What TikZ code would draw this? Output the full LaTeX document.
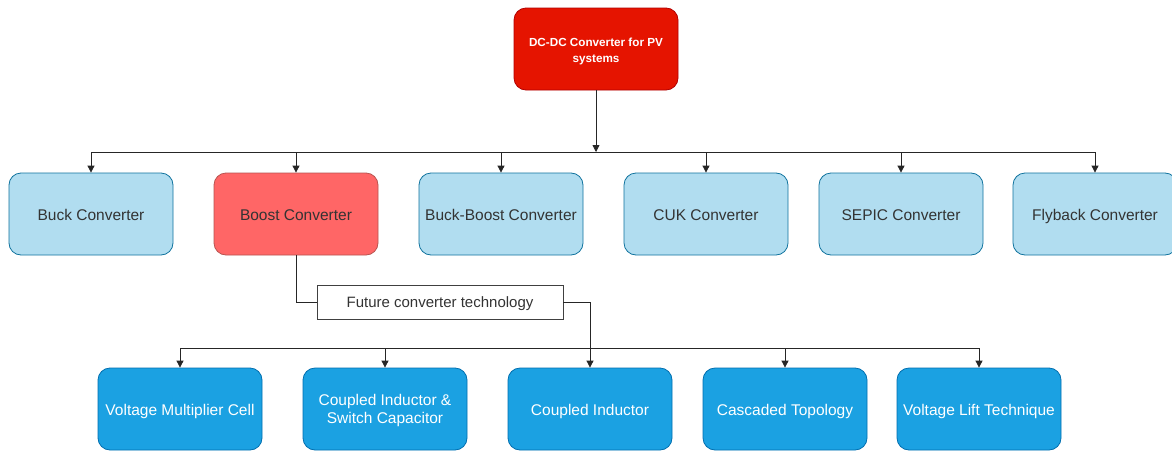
\documentclass[tikz,border=0pt]{standalone}
\usepackage{fontspec}
\setmainfont{Liberation Sans}
\usetikzlibrary{arrows.meta}
\definecolor{topfill}{HTML}{E51400}
\definecolor{topline}{HTML}{B20000}
\definecolor{lbfill}{HTML}{B1DDF0}
\definecolor{lbline}{HTML}{10739E}
\definecolor{rdfill}{HTML}{FF6666}
\definecolor{rdline}{HTML}{B85450}
\definecolor{bbfill}{HTML}{1BA1E2}
\definecolor{bbline}{HTML}{006EAF}
\definecolor{txt}{HTML}{333333}
\newcommand{\twolines}[2]{\raisebox{-2pt}[\height][\depth]{\begin{tabular}{@{}c@{}}#1\\#2\end{tabular}}}
\begin{document}
\begin{tikzpicture}[x=1pt,y=-1pt,
  box/.style={rounded corners=12pt,minimum width=164pt,minimum height=82pt,inner sep=2pt,align=center,line width=0.8pt,font=\fontsize{15.5}{18.5}\selectfont,text height=13pt,text depth=0pt},
  lightbox/.style={box,fill=lbfill,draw=lbline,text=txt},
  boostbox/.style={box,fill=rdfill,draw=rdline,text=txt},
  bluebox/.style={box,fill=bbfill,draw=bbline,text=white},
  twoline/.style={text height=,text depth=},
  topbox/.style={box,twoline,fill=topfill,draw=topline,text=white,font=\bfseries\fontsize{11.7}{16}\selectfont},
  labelbox/.style={draw=black!75,fill=white,minimum width=246pt,minimum height=34pt,inner sep=0pt,text=txt,font=\fontsize{15}{18}\selectfont,text height=12pt,text depth=0.5pt,line width=0.8pt},
  conn/.style={draw=black!85,line width=0.8pt},
  arr/.style={conn,-{Triangle[length=7pt,width=7pt]}}]
\useasboundingbox (0,0) rectangle (1172,450);
\clip (0,0) rectangle (1172,450);
\fill[white] (0,0) rectangle (1172,450);
% top
\node[topbox] (top) at (596,49) {\twolines{DC-DC Converter for PV}{systems}};
% row 2
\node[lightbox] (buck) at (91,214) {Buck Converter};
\node[boostbox] (boost) at (296,214) {Boost Converter};
\node[lightbox] (bb) at (501,214) {Buck-Boost Converter};
\node[lightbox] (cuk) at (706,214) {CUK Converter};
\node[lightbox] (sepic) at (901,214) {SEPIC Converter};
\node[lightbox] (fly) at (1095,214) {Flyback Converter};
% label
\node[labelbox] (fut) at (440,302) {Future converter technology};
% row 3
\node[bluebox] (vmc) at (180,409) {Voltage Multiplier Cell};
\node[bluebox,twoline] (cisc) at (385,409) {\twolines{Coupled Inductor \&}{Switch Capacitor}};
\node[bluebox] (ci) at (590,409) {Coupled Inductor};
\node[bluebox] (cas) at (785,409) {Cascaded Topology};
\node[bluebox] (vlt) at (979,409) {Voltage Lift Technique};
% bus coordinates
\coordinate (busA) at (91,152);
\coordinate (busB) at (1095,152);
\coordinate (busC) at (180,348);
\coordinate (busD) at (979,348);
% connectors row 1
\draw[conn] (busA) -- (busB);
\draw[arr] (top.south) -- (top.south |- busA);
\foreach \n in {buck,boost,bb,cuk,sepic,fly}{
  \draw[arr] (\n.north |- busA) -- (\n.north);
}
% boost to label
\draw[conn] (boost.south) |- (fut.west);
% label to coupled inductor
\draw[arr] (fut.east) -| (ci.north);
% bus row 3
\draw[conn] (busC) -- (busD);
\foreach \n in {vmc,cisc,cas,vlt}{
  \draw[arr] (\n.north |- busC) -- (\n.north);
}
\end{tikzpicture}
\end{document}
